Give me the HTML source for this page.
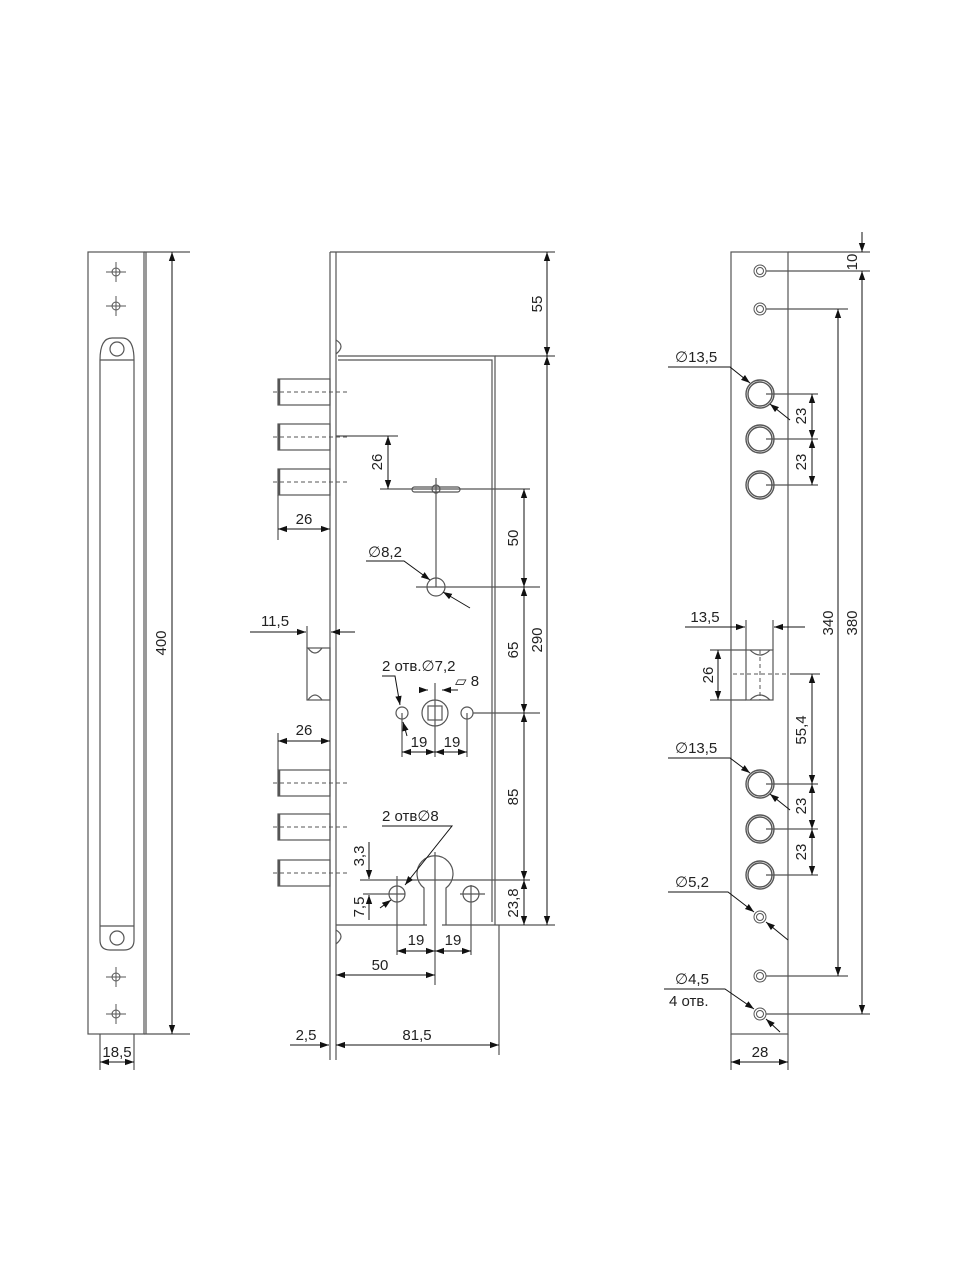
<!DOCTYPE html>
<html><head><meta charset="utf-8"><style>
html,body{margin:0;padding:0;background:#fff}
svg{display:block}
text{font-family:"Liberation Sans","DejaVu Sans",sans-serif;font-size:15px;fill:#222}
</style></head><body>
<svg width="960" height="1280" viewBox="0 0 960 1280" xmlns="http://www.w3.org/2000/svg">
<defs>
<marker id="a" viewBox="0 0 10 10" refX="10" refY="5" markerWidth="9" markerHeight="9" orient="auto-start-reverse" markerUnits="userSpaceOnUse"><path d="M0,1.5 L10,5 L0,8.5z" fill="#111"/></marker>
</defs>
<g stroke="#555" stroke-width="1.2" fill="none">
<!-- LEFT PART -->
<rect x="88" y="252" width="56" height="782"/>
<line x1="146" y1="252" x2="146" y2="1034"/>
<line x1="144" y1="252" x2="190" y2="252"/>
<line x1="144" y1="1034" x2="190" y2="1034"/>
<path d="M100,926 L100,360 Q100,338 112,338 L122,338 Q134,338 134,360 L134,926"/>
<line x1="100" y1="360" x2="134" y2="360"/>
<circle cx="117" cy="349" r="7"/>
<path d="M100,926 L100,940 Q100,950 110,950 L124,950 Q134,950 134,940 L134,926"/>
<line x1="100" y1="926" x2="134" y2="926"/>
<circle cx="117" cy="938" r="7"/>
<g stroke-width="1">
<circle cx="116" cy="272" r="4"/><path d="M106,272h20M116,262v20"/>
<circle cx="116" cy="306" r="4"/><path d="M106,306h20M116,296v20"/>
<circle cx="116" cy="977" r="4"/><path d="M106,977h20M116,967v20"/>
<circle cx="116" cy="1014" r="4"/><path d="M106,1014h20M116,1004v20"/>
</g>
<line x1="100" y1="1034" x2="100" y2="1070"/><line x1="134" y1="1034" x2="134" y2="1070"/>
</g>
<g stroke="#111" stroke-width="1" fill="none">
<line x1="172" y1="252" x2="172" y2="1034" marker-start="url(#a)" marker-end="url(#a)"/>
<line x1="100" y1="1062" x2="134" y2="1062" marker-start="url(#a)" marker-end="url(#a)"/>
</g>
<text x="0" y="0" transform="translate(166,643) rotate(-90)" text-anchor="middle">400</text>
<text x="117" y="1057" text-anchor="middle">18,5</text>

<!-- MIDDLE PART -->
<g stroke="#555" stroke-width="1.2" fill="none">
<line x1="330" y1="252" x2="330" y2="1060"/>
<line x1="336" y1="252" x2="336" y2="1060"/>
<line x1="330" y1="252" x2="555" y2="252"/>
<path d="M338,356 L495,356 L495,925"/>
<path d="M338,360 L492,360 L492,922"/>
<line x1="495" y1="356" x2="555" y2="356"/>
<line x1="336" y1="925" x2="427" y2="925"/>
<line x1="442" y1="925" x2="555" y2="925"/>
<path d="M336,340 q10,6 0,14"/>
<path d="M336,930 q10,6 0,14"/>
<rect x="278" y="379" width="52" height="26"/><rect x="278" y="424" width="52" height="26"/><rect x="278" y="469" width="52" height="26"/>
<rect x="278" y="770" width="52" height="26"/><rect x="278" y="814" width="52" height="26"/><rect x="278" y="860" width="52" height="26"/>
<path d="M279,379v26M279,424v26M279,469v26M279,770v26M279,814v26M279,860v26" stroke-width="2.5"/>
<rect x="307" y="648" width="23" height="52"/>
<path d="M308,648 q7,10 14,0M308,700 q7,-10 14,0"/>
<rect x="412" y="487" width="48" height="5" rx="2.5"/>
<circle cx="436" cy="489" r="4"/>
<line x1="436" y1="478" x2="436" y2="587"/>
<circle cx="436" cy="587" r="9"/>
<line x1="416" y1="587" x2="540" y2="587"/>
<circle cx="435" cy="713" r="13"/>
<rect x="428" y="706" width="14" height="14"/>
<circle cx="402" cy="713" r="6"/>
<circle cx="467" cy="713" r="6"/>
<line x1="435" y1="683" x2="435" y2="757"/>
<line x1="402" y1="713" x2="402" y2="757"/>
<line x1="467" y1="713" x2="467" y2="757"/>
<line x1="473" y1="713" x2="540" y2="713"/>
<path d="M424,925 L424,888 A18,18 0 1 1 446,888 L446,925"/>
<line x1="435" y1="852" x2="435" y2="985"/>
<circle cx="397" cy="894" r="8"/>
<circle cx="471" cy="894" r="8"/>
<line x1="397" y1="876" x2="397" y2="955"/>
<line x1="471" y1="885" x2="471" y2="955"/>
<line x1="360" y1="880" x2="530" y2="880"/>
<line x1="363" y1="894" x2="405" y2="894"/>
<line x1="460" y1="894" x2="485" y2="894"/>
<line x1="336" y1="436" x2="398" y2="436"/>
<line x1="380" y1="489" x2="530" y2="489"/>
<line x1="278" y1="495" x2="278" y2="540"/>
<line x1="278" y1="733" x2="278" y2="770"/>
<line x1="307" y1="626" x2="307" y2="648"/>
<line x1="499" y1="925" x2="499" y2="1055"/>
</g>
<g stroke="#555" stroke-width="1" stroke-dasharray="4,3" fill="none">
<path d="M273,392h75M273,437h75M273,482h75M273,783h75M273,827h75M273,873h75"/>
</g>
<g stroke="#111" stroke-width="1" fill="none">
<line x1="547" y1="252" x2="547" y2="356" marker-start="url(#a)" marker-end="url(#a)"/>
<line x1="547" y1="356" x2="547" y2="925" marker-start="url(#a)" marker-end="url(#a)"/>
<line x1="524" y1="489" x2="524" y2="587" marker-start="url(#a)" marker-end="url(#a)"/>
<line x1="524" y1="587" x2="524" y2="713" marker-start="url(#a)" marker-end="url(#a)"/>
<line x1="524" y1="713" x2="524" y2="880" marker-start="url(#a)" marker-end="url(#a)"/>
<line x1="524" y1="880" x2="524" y2="925" marker-start="url(#a)" marker-end="url(#a)"/>
<line x1="388" y1="436" x2="388" y2="489" marker-start="url(#a)" marker-end="url(#a)"/>
<line x1="278" y1="529" x2="330" y2="529" marker-start="url(#a)" marker-end="url(#a)"/>
<line x1="278" y1="741" x2="330" y2="741" marker-start="url(#a)" marker-end="url(#a)"/>
<line x1="250" y1="632" x2="306" y2="632" marker-end="url(#a)"/>
<line x1="355" y1="632" x2="331" y2="632" marker-end="url(#a)"/>
<line x1="402" y1="752" x2="435" y2="752" marker-start="url(#a)" marker-end="url(#a)"/>
<line x1="435" y1="752" x2="467" y2="752" marker-start="url(#a)" marker-end="url(#a)"/>
<line x1="397" y1="951" x2="435" y2="951" marker-start="url(#a)" marker-end="url(#a)"/>
<line x1="435" y1="951" x2="471" y2="951" marker-start="url(#a)" marker-end="url(#a)"/>
<line x1="336" y1="975" x2="435" y2="975" marker-start="url(#a)" marker-end="url(#a)"/>
<line x1="336" y1="1045" x2="499" y2="1045" marker-start="url(#a)" marker-end="url(#a)"/>
<line x1="290" y1="1045" x2="329" y2="1045" marker-end="url(#a)"/>
<line x1="369" y1="842" x2="369" y2="879" marker-end="url(#a)"/>
<line x1="369" y1="920" x2="369" y2="895" marker-end="url(#a)"/>
<path d="M366,561 L404,561 L430,580" marker-end="url(#a)"/>
<line x1="470" y1="608" x2="443" y2="592" marker-end="url(#a)"/>
<path d="M382,676 L395,676 L400,705" marker-end="url(#a)"/>
<line x1="407" y1="736" x2="403" y2="722" marker-end="url(#a)"/>
<line x1="422" y1="690" x2="428" y2="690" marker-end="url(#a)"/>
<line x1="458" y1="690" x2="442" y2="690" marker-end="url(#a)"/>
<path d="M382,826 L452,826 L405,885" marker-end="url(#a)"/>
<line x1="380" y1="908" x2="391" y2="900" marker-end="url(#a)"/>
</g>
<text transform="translate(542,304) rotate(-90)" text-anchor="middle">55</text>
<text transform="translate(542,640) rotate(-90)" text-anchor="middle">290</text>
<text transform="translate(518,538) rotate(-90)" text-anchor="middle">50</text>
<text transform="translate(518,650) rotate(-90)" text-anchor="middle">65</text>
<text transform="translate(518,797) rotate(-90)" text-anchor="middle">85</text>
<text transform="translate(518,903) rotate(-90)" text-anchor="middle">23,8</text>
<text transform="translate(382,462) rotate(-90)" text-anchor="middle">26</text>
<text transform="translate(364,856) rotate(-90)" text-anchor="middle">3,3</text>
<text transform="translate(364,907) rotate(-90)" text-anchor="middle">7,5</text>
<text x="304" y="524" text-anchor="middle">26</text>
<text x="304" y="735" text-anchor="middle">26</text>
<text x="275" y="626" text-anchor="middle">11,5</text>
<text x="368" y="557">∅8,2</text>
<text x="382" y="671">2 отв.∅7,2</text>
<text x="455" y="686">▱ 8</text>
<text x="419" y="747" text-anchor="middle">19</text>
<text x="452" y="747" text-anchor="middle">19</text>
<text x="382" y="821">2 отв∅8</text>
<text x="416" y="945" text-anchor="middle">19</text>
<text x="453" y="945" text-anchor="middle">19</text>
<text x="380" y="970" text-anchor="middle">50</text>
<text x="417" y="1040" text-anchor="middle">81,5</text>
<text x="306" y="1040" text-anchor="middle">2,5</text>

<!-- RIGHT PART -->
<g stroke="#555" stroke-width="1.2" fill="none">
<rect x="731" y="252" width="57" height="782"/>
<line x1="788" y1="252" x2="870" y2="252"/>
<g stroke-width="1">
<circle cx="760" cy="271" r="6"/><circle cx="760" cy="271" r="3.5"/>
<circle cx="760" cy="309" r="6"/><circle cx="760" cy="309" r="3.5"/>
<circle cx="760" cy="976" r="6"/><circle cx="760" cy="976" r="3.5"/>
<circle cx="760" cy="1014" r="6"/><circle cx="760" cy="1014" r="3.5"/>
<circle cx="760" cy="917" r="6"/><circle cx="760" cy="917" r="3.5"/>
</g>
<g stroke-width="1.4">
<circle cx="760" cy="394" r="14"/><circle cx="760" cy="394" r="12"/>
<circle cx="760" cy="439" r="14"/><circle cx="760" cy="439" r="12"/>
<circle cx="760" cy="485" r="14"/><circle cx="760" cy="485" r="12"/>
<circle cx="760" cy="784" r="14"/><circle cx="760" cy="784" r="12"/>
<circle cx="760" cy="829" r="14"/><circle cx="760" cy="829" r="12"/>
<circle cx="760" cy="875" r="14"/><circle cx="760" cy="875" r="12"/>
</g>
<rect x="746" y="650" width="27" height="50"/>
<path d="M750,650 q10,10 20,0M750,700 q10,-10 20,0"/>
<line x1="746" y1="620" x2="746" y2="650"/><line x1="773" y1="620" x2="773" y2="650"/>
<line x1="710" y1="650" x2="746" y2="650"/><line x1="710" y1="700" x2="746" y2="700"/>
<line x1="790" y1="674" x2="820" y2="674"/>
<path d="M766,271H870M766,309H848M766,394H818M766,439H818M766,485H818M766,784H818M766,829H818M766,875H818M766,976H848M766,1014H870"/>
<line x1="731" y1="1034" x2="731" y2="1070"/><line x1="788" y1="1034" x2="788" y2="1070"/>
</g>
<line x1="733" y1="674" x2="786" y2="674" stroke="#555" stroke-dasharray="4,3"/>
<line x1="760" y1="650" x2="760" y2="700" stroke="#555" stroke-dasharray="4,3"/>
<g stroke="#111" stroke-width="1" fill="none">
<line x1="862" y1="232" x2="862" y2="252" marker-end="url(#a)"/>
<line x1="862" y1="271" x2="862" y2="1014" marker-start="url(#a)" marker-end="url(#a)"/>
<line x1="838" y1="309" x2="838" y2="976" marker-start="url(#a)" marker-end="url(#a)"/>
<line x1="812" y1="394" x2="812" y2="439" marker-start="url(#a)" marker-end="url(#a)"/>
<line x1="812" y1="439" x2="812" y2="485" marker-start="url(#a)" marker-end="url(#a)"/>
<line x1="812" y1="674" x2="812" y2="784" marker-start="url(#a)" marker-end="url(#a)"/>
<line x1="812" y1="784" x2="812" y2="829" marker-start="url(#a)" marker-end="url(#a)"/>
<line x1="812" y1="829" x2="812" y2="875" marker-start="url(#a)" marker-end="url(#a)"/>
<line x1="718" y1="650" x2="718" y2="700" marker-start="url(#a)" marker-end="url(#a)"/>
<line x1="685" y1="627" x2="745" y2="627" marker-end="url(#a)"/>
<line x1="805" y1="627" x2="774" y2="627" marker-end="url(#a)"/>
<line x1="731" y1="1062" x2="788" y2="1062" marker-start="url(#a)" marker-end="url(#a)"/>
<path d="M668,367 L730,367 L750,383" marker-end="url(#a)"/><line x1="790" y1="420" x2="770" y2="404" marker-end="url(#a)"/>
<path d="M668,758 L730,758 L750,773" marker-end="url(#a)"/><line x1="790" y1="810" x2="770" y2="794" marker-end="url(#a)"/>
<path d="M668,892 L728,892 L754,912" marker-end="url(#a)"/><line x1="788" y1="940" x2="766" y2="922" marker-end="url(#a)"/>
<path d="M664,989 L725,989 L754,1009" marker-end="url(#a)"/><line x1="780" y1="1032" x2="766" y2="1019" marker-end="url(#a)"/>
</g>
<text transform="translate(857,262) rotate(-90)" text-anchor="middle">10</text>
<text transform="translate(857,623) rotate(-90)" text-anchor="middle">380</text>
<text transform="translate(833,623) rotate(-90)" text-anchor="middle">340</text>
<text transform="translate(806,416) rotate(-90)" text-anchor="middle">23</text>
<text transform="translate(806,462) rotate(-90)" text-anchor="middle">23</text>
<text transform="translate(806,730) rotate(-90)" text-anchor="middle">55,4</text>
<text transform="translate(806,806) rotate(-90)" text-anchor="middle">23</text>
<text transform="translate(806,852) rotate(-90)" text-anchor="middle">23</text>
<text transform="translate(713,675) rotate(-90)" text-anchor="middle">26</text>
<text x="705" y="622" text-anchor="middle">13,5</text>
<text x="675" y="362">∅13,5</text>
<text x="675" y="753">∅13,5</text>
<text x="675" y="887">∅5,2</text>
<text x="675" y="984">∅4,5</text>
<text x="669" y="1006">4 отв.</text>
<text x="760" y="1057" text-anchor="middle">28</text>
</svg>
</body></html>
